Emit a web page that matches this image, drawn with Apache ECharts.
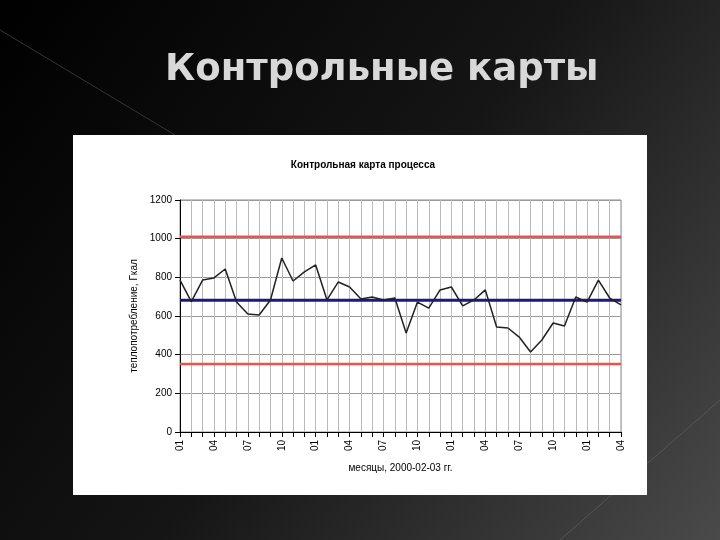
<!DOCTYPE html>
<html>
<head>
<meta charset="utf-8">
<script src="https://cdn.jsdelivr.net/npm/echarts@6/dist/echarts.min.js"></script>
<style>html,body{margin:0;padding:0;background:#000;}#main{width:720px;height:540px;}</style>
</head>
<body>
<div id="main"></div>
<script>
var months = ['01','02','03','04','05','06','07','08','09','10','11','12',
    '01','02','03','04','05','06','07','08','09','10','11','12',
    '01','02','03','04','05','06','07','08','09','10','11','12',
    '01','02','03','04'];
var consumption = [786, 674, 786, 797, 843, 672, 610, 605, 683, 900,
    781, 828, 864, 683, 776, 750, 688, 698, 683, 693,
    512, 672, 641, 735, 750, 652, 683, 735, 543, 538,
    491, 414, 476, 564, 548, 698, 672, 786, 693, 657];
var upperLimit = 1010;
var centerLine = 682;
var lowerLimit = 352;

var chart = echarts.init(document.getElementById('main'));

function flat(v) {
    return months.map(function () { return v; });
}

chart.setOption({
    animation: false,
    graphic: [{
        type: 'rect', z: -10, silent: true,
        shape: {x: 0, y: 0, width: 720, height: 540},
        style: {fill: new echarts.graphic.LinearGradient(0, 0, 1, 1, [
            {offset: 0, color: '#000'}, {offset: 0.5, color: '#151515'}, {offset: 1, color: '#4a4a4a'}])}
    }, {
        type: 'line', z: -9, silent: true,
        shape: {x1: 0, y1: 30, x2: 200, y2: 150},
        style: {stroke: '#333', lineWidth: 1}
    }, {
        type: 'line', z: -9, silent: true,
        shape: {x1: 560, y1: 540, x2: 720, y2: 400},
        style: {stroke: '#555', lineWidth: 1}
    }, {
        type: 'text', left: 165, top: 52, z: 5,
        style: {text: 'Контрольные карты', fill: '#d8d8d8',
            font: 'bold 37px "DejaVu Sans"'}
    }, {
        type: 'rect', z: -5, silent: true,
        shape: {x: 73, y: 135, width: 574, height: 360},
        style: {fill: '#fff'}
    }],
    title: {
        text: 'Контрольная карта процесса',
        left: 358, top: 155, textAlign: 'center',
        textStyle: {fontSize: 10, fontWeight: 'bold', color: '#000', fontFamily: 'Liberation Sans'}
    },
    grid: {left: 180, right: 99, top: 200, bottom: 108, show: true, borderColor: '#888'},
    xAxis: {
        type: 'category', data: months, boundaryGap: false,
        name: 'месяцы, 2000-02-03 гг.', nameLocation: 'middle', nameGap: 31,
        nameTextStyle: {fontSize: 10, color: '#000', fontFamily: 'Liberation Sans'},
        axisLine: {lineStyle: {color: '#000'}},
        axisTick: {interval: 0, lineStyle: {color: '#000'}},
        axisLabel: {interval: 2, rotate: 90, fontSize: 10, color: '#000', fontFamily: 'Liberation Sans'},
        splitLine: {show: true, interval: 0, lineStyle: {color: '#bbb'}}
    },
    yAxis: {
        type: 'value', min: 0, max: 1200, interval: 200,
        name: 'теплопотребление, Гкал', nameLocation: 'middle', nameGap: 30,
        nameTextStyle: {fontSize: 10, color: '#000', fontFamily: 'Liberation Sans'},
        axisLine: {show: true, lineStyle: {color: '#000'}},
        axisTick: {show: true},
        axisLabel: {fontSize: 10, color: '#000', fontFamily: 'Liberation Sans',
            formatter: function (v) { return String(v); }},
        splitLine: {lineStyle: {color: '#999'}}
    },
    series: [{
        type: 'line', data: flat(upperLimit), symbol: 'none',
        lineStyle: {color: '#f0504a', width: 2.5}
    }, {
        type: 'line', data: flat(lowerLimit), symbol: 'none',
        lineStyle: {color: '#f0504a', width: 2.5}
    }, {
        type: 'line', data: flat(centerLine), symbol: 'none', z: 3,
        lineStyle: {color: '#1a1a80', width: 3}
    }, {
        type: 'line', data: consumption, symbol: 'none', z: 4,
        lineStyle: {color: '#222', width: 1.5}
    }]
});
</script>
</body>
</html>
